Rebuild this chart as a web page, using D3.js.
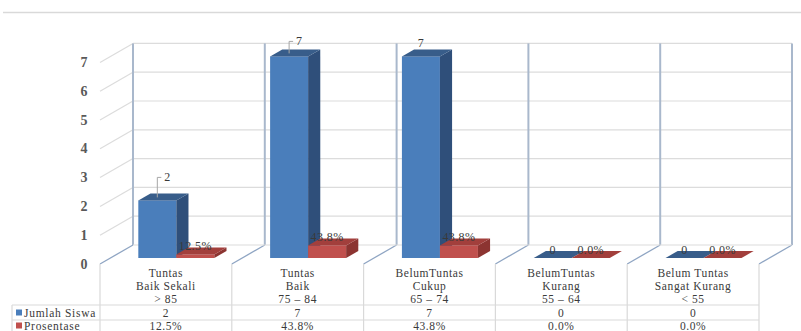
<!DOCTYPE html>
<html><head><meta charset="utf-8">
<script src="https://cdn.jsdelivr.net/npm/d3@7"></script>
<style>html,body{margin:0;padding:0;background:#fff;}svg{display:block;}svg text{font-family:"Liberation Serif","Tinos","Times New Roman","DejaVu Serif",serif;}</style>
</head><body>
<svg id="c" width="801" height="331"></svg>
<script>
const categories = ["Tuntas|Baik Sekali|> 85","Tuntas|Baik|75 – 84","BelumTuntas|Cukup|65 – 74","BelumTuntas|Kurang|55 – 64","Belum Tuntas|Sangat Kurang|< 55"];
const series = ["Jumlah Siswa","Prosentase"];
const jumlahSiswa = [2,7,7,0,0];
const prosentase = [12.5,43.8,43.8,0,0];
const yTicks = [0,1,2,3,4,5,6,7];

const svg = d3.select("#c");
const DX = 33, DY = 19;          // full floor depth offset
const barD0 = 6/19, barD1 = 13/19; // bar depth range
const x0 = d3.scaleBand().domain(categories).range([100, 759]);
const x1 = d3.scaleBand().domain(series).range([0, x0.bandwidth()]).paddingOuter(0.734);
const y = d3.scaleLinear().domain([0,7]).range([264, 62.4]);
const colors = {
  "Jumlah Siswa": {front:"#4a7ebb", side:"#2f4f7a", top:"#385d8a"},
  "Prosentase": {front:"#c0504d", side:"#8c3431", top:"#a23f3c"}
};

// top rule
svg.append("line").attr("x1",3).attr("x2",801).attr("y1",12.5).attr("y2",12.5).attr("stroke","#d9d9d9").attr("stroke-width",1.5);

// back wall horizontal gridlines
yTicks.forEach(v=>{
  if(v>0){
    svg.append("line").attr("x1",133).attr("x2",792).attr("y1",y(v)-DY).attr("y2",y(v)-DY).attr("stroke","#dcdcdc").attr("stroke-width",1.2);
    svg.append("line").attr("x1",100).attr("y1",y(v)).attr("x2",133).attr("y2",y(v)-DY).attr("stroke","#dcdcdc").attr("stroke-width",1.2);
  }
});
// back wall vertical lines + floor diagonals
const bounds = categories.map(c=>x0(c)).concat([x0.range()[1]]);
bounds.forEach(bx=>{
  svg.append("line").attr("x1",bx+DX).attr("x2",bx+DX).attr("y1",y(7)-DY).attr("y2",y(0)-DY).attr("stroke","#a9b8cc").attr("stroke-width",2);
  svg.append("line").attr("x1",bx).attr("y1",y(0)).attr("x2",bx+DX).attr("y2",y(0)-DY).attr("stroke","#8fa5c3").attr("stroke-width",1.3);
});
svg.append("line").attr("x1",133).attr("x2",792).attr("y1",y(0)-DY).attr("y2",y(0)-DY).attr("stroke","#dcdcdc").attr("stroke-width",1.2);

// y-axis labels
yTicks.forEach(v=>{
  svg.append("text").attr("x",84).attr("y",y(v)+4.5).attr("text-anchor","middle")
    .attr("font-size",14).attr("font-weight","bold").attr("fill","#595959").text(v);
});

// bars
const bdx0 = DX*barD0, bdy0 = DY*barD0;
const sdx = DX*(barD1-barD0), sdy = DY*(barD1-barD0);
const w = x1.bandwidth();
const g = svg.append("g");
categories.forEach((c,i)=>{
  series.forEach(s=>{
    const v = s==="Jumlah Siswa" ? jumlahSiswa[i] : prosentase[i]/100;
    const x = x0(c) + x1(s) + bdx0;
    const yb = y(0) - bdy0;
    const yt = y(v) - bdy0;
    const col = colors[s];
    if(yb-yt>0.5){
      g.append("rect").attr("x",x).attr("y",yt).attr("width",w).attr("height",yb-yt).attr("fill",col.front);
      g.append("path").attr("d",`M${x+w},${yt}L${x+w+sdx},${yt-sdy}L${x+w+sdx},${yb-sdy}L${x+w},${yb}Z`).attr("fill",col.side);
    }
    g.append("path").attr("d",`M${x},${yt}L${x+sdx},${yt-sdy}L${x+w+sdx},${yt-sdy}L${x+w},${yt}Z`).attr("fill",col.top);
  });
});

// data labels
const lbl = svg.append("g").attr("font-size",12).attr("fill","#3a3a3a").attr("letter-spacing",0.4);
const labelLift = [23,15,13,0,0];
categories.forEach((c,i)=>{
  const xb = x0(c)+x1("Jumlah Siswa")+bdx0+w/2;
  const ytb = y(jumlahSiswa[i])-bdy0;
  if(jumlahSiswa[i]>0){
    const ly = ytb - labelLift[i];
    if(i<2){
      svg.append("path").attr("d",`M${xb},${ytb-3}L${xb},${ly}L${xb+4},${ly}`).attr("fill","none").attr("stroke","#a6a6a6").attr("stroke-width",1);
      lbl.append("text").attr("x",xb+7).attr("y",ly+4).text(jumlahSiswa[i]);
    } else {
      lbl.append("text").attr("x",xb).attr("y",ly+4).attr("text-anchor","middle").text(jumlahSiswa[i]);
    }
  } else {
    lbl.append("text").attr("x",xb).attr("y",ytb-4).attr("text-anchor","middle").text(jumlahSiswa[i]);
  }
  const xr = x0(c)+x1("Prosentase")+bdx0+w/2;
  const ytr = y(prosentase[i]/100)-bdy0;
  lbl.append("text").attr("x",xr).attr("y",ytr-4).attr("text-anchor","middle").text(prosentase[i].toFixed(1)+"%");
});

// data table
const tg = svg.append("g");
bounds.forEach(bx=>{
  tg.append("line").attr("x1",bx).attr("x2",bx).attr("y1",y(0)).attr("y2",331).attr("stroke","#d9d9d9").attr("stroke-width",1.2);
});
tg.append("line").attr("x1",12).attr("x2",12).attr("y1",305).attr("y2",331).attr("stroke","#d9d9d9").attr("stroke-width",1.2);
[305,320].forEach(yy=>{
  tg.append("line").attr("x1",12).attr("x2",759).attr("y1",yy).attr("y2",yy).attr("stroke","#d9d9d9").attr("stroke-width",1.2);
});
const tt = svg.append("g").attr("font-size",11.5).attr("fill","#3a3a3a").attr("letter-spacing",0.6).attr("text-anchor","middle");
categories.forEach((c,i)=>{
  const cx = x0(c)+x0.bandwidth()/2;
  c.split("|").forEach((line,k)=>{
    tt.append("text").attr("x",cx).attr("y",276.5+k*13).text(line);
  });
  tt.append("text").attr("x",cx).attr("y",316.5).text(jumlahSiswa[i]);
  tt.append("text").attr("x",cx).attr("y",329.5).text(prosentase[i].toFixed(1)+"%");
});
series.forEach((s,k)=>{
  const yy = 316.5 + k*13;
  svg.append("rect").attr("x",16).attr("y",yy-7).attr("width",6).attr("height",6).attr("fill",colors[s].front);
  svg.append("text").attr("x",24).attr("y",yy).attr("font-size",11.5).attr("letter-spacing",0.7).attr("fill","#3a3a3a").text(s);
});
</script>
</body></html>
